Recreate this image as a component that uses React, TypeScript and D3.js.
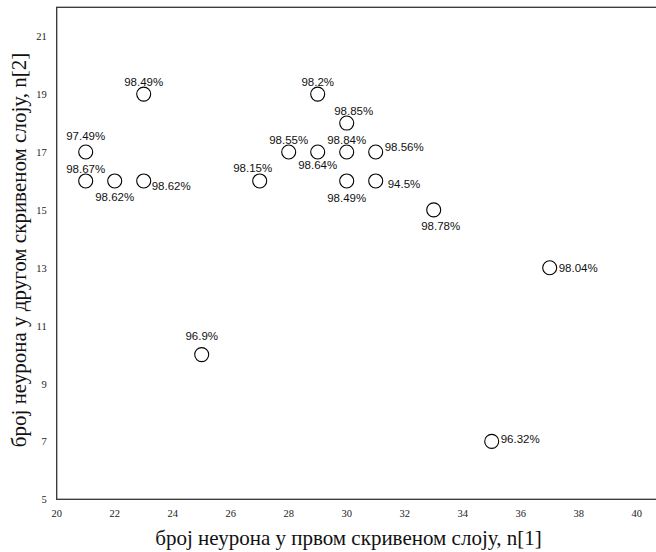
import React from "react";
import * as d3 from "d3";

// Neurons in the first hidden layer, n[1]
const n1 = [21, 21, 22, 23, 23, 25, 27, 28, 29, 29, 30, 30, 30, 31, 31, 33, 37, 35];
// Neurons in the second hidden layer, n[2]
const n2 = [17, 16, 16, 16, 19, 10, 16, 17, 17, 19, 18, 17, 16, 17, 16, 15, 13, 7];
// Accuracy for each configuration
const accuracy = [
  "97.49%", "98.67%", "98.62%", "98.62%", "98.49%", "96.9%", "98.15%", "98.55%",
  "98.64%", "98.2%", "98.85%", "98.84%", "98.49%", "98.56%", "94.5%", "98.78%",
  "98.04%", "96.32%",
];

const xTicks = [20, 22, 24, 26, 28, 30, 32, 34, 36, 38, 40];
const yTicks = [5, 7, 9, 11, 13, 15, 17, 19, 21];

const xTitle = "број неурона у првом скривеном слоју, n[1]";
const yTitle = "број неурона у другом скривеном слоју, n[2]";

// Label placement relative to each marker: side, extra x shift, extra y shift
type Side = "above" | "below" | "right";
const labelLayout: [Side, number, number][] = [
  ["above", 0, -4],
  ["above", 0, 0],
  ["below", 0, 0],
  ["right", -1, 5],
  ["above", 0, 0],
  ["above", 0, -7],
  ["above", -7, -1],
  ["above", 0, 0],
  ["below", 0, -3],
  ["above", 0, 0],
  ["above", 7, 0],
  ["above", 0, 0],
  ["below", 0, 1],
  ["right", 0, -5],
  ["right", 3, 3],
  ["below", 7, 0],
  ["right", 0, 0],
  ["right", 0, -2],
];

const W = 656;
const H = 552;
const left = 56.7;
const top = 7.3;
const bottom = 499.3;

export default function App() {
  const x = d3.scaleLinear().domain([20, 41]).range([left, left + 21 * 29]);
  const y = d3.scaleLinear().domain([5, 22]).range([bottom, top]);
  const r = 7;

  return (
    <svg
      width={W}
      height={H}
      style={{ position: "absolute", left: 0, top: 0, background: "#fff" }}
    >
      {/* plot frame */}
      <rect
        x={x(20)}
        y={y(22)}
        width={x(41) - x(20)}
        height={y(5) - y(22)}
        fill="none"
        stroke="#333"
        strokeWidth={1.3}
      />

      {/* x tick labels */}
      {xTicks.map((t) => (
        <text
          key={"x" + t}
          x={x(t)}
          y={bottom + 18}
          textAnchor="middle"
          fontFamily="Liberation Serif, Times New Roman, serif"
          fontSize={10.5}
          fill="#222"
        >
          {t}
        </text>
      ))}

      {/* y tick labels */}
      {yTicks.map((t) => (
        <text
          key={"y" + t}
          x={left - 10}
          y={y(t) + 4}
          textAnchor="end"
          fontFamily="Liberation Serif, Times New Roman, serif"
          fontSize={10.5}
          fill="#222"
        >
          {t}
        </text>
      ))}

      {/* axis titles */}
      <text
        x={348.5}
        y={545}
        textAnchor="middle"
        fontFamily="Liberation Serif, Times New Roman, serif"
        fontSize={21}
        fill="#111"
      >
        {xTitle}
      </text>
      <text
        transform={`translate(26,${250}) rotate(-90)`}
        textAnchor="middle"
        fontFamily="Liberation Serif, Times New Roman, serif"
        fontSize={21}
        fill="#111"
      >
        {yTitle}
      </text>

      {/* markers */}
      {n1.map((v, i) => (
        <circle
          key={"c" + i}
          cx={x(v)}
          cy={y(n2[i])}
          r={r}
          fill="#fff"
          stroke="#000"
          strokeWidth={1.1}
        />
      ))}

      {/* accuracy labels */}
      {n1.map((v, i) => {
        const [side, dx, dy] = labelLayout[i];
        const cx = x(v);
        const cy = y(n2[i]);
        let tx = cx + dx;
        let ty = cy + dy;
        let anchor: "middle" | "start" = "middle";
        if (side === "above") ty = cy - 8 + dy;
        else if (side === "below") ty = cy + 20 + dy;
        else {
          tx = cx + 9 + dx;
          ty = cy + 4 + dy;
          anchor = "start";
        }
        return (
          <text
            key={"t" + i}
            x={tx}
            y={ty}
            textAnchor={anchor}
            fontFamily="Liberation Sans, Arial, Helvetica, sans-serif"
            fontSize={11.5}
            fill="#111"
          >
            {accuracy[i]}
          </text>
        );
      })}
    </svg>
  );
}
